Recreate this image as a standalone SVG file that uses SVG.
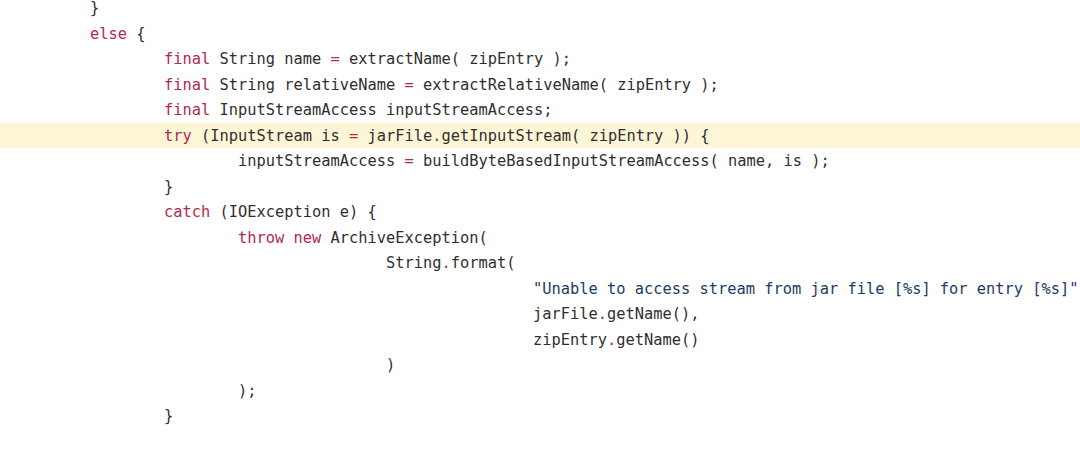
<svg xmlns="http://www.w3.org/2000/svg" width="1080" height="459" viewBox="0 0 1080 459">
<style>
text{font-family:"DejaVu Sans Mono","Liberation Mono",monospace;font-size:15.37px;fill:#2f2f2f;white-space:pre}
.k{fill:#b02a4c}
.s{fill:#1d3b66}
</style>
<rect x="0" y="0" width="1080" height="459" fill="#ffffff"/>
<rect x="0" y="123" width="1080" height="25" fill="#fdf6d6"/>
<g id="code">
<text x="90" y="13">}</text>
<text x="90" y="38.5"><tspan class="k">else</tspan> {</text>
<text x="164" y="64"><tspan class="k">final</tspan> String name <tspan class="k">=</tspan> extractName( zipEntry );</text>
<text x="164" y="89.5"><tspan class="k">final</tspan> String relativeName <tspan class="k">=</tspan> extractRelativeName( zipEntry );</text>
<text x="164" y="115"><tspan class="k">final</tspan> InputStreamAccess inputStreamAccess;</text>
<text x="164" y="140.5"><tspan class="k">try</tspan> (InputStream is <tspan class="k">=</tspan> jarFile<tspan class="k">.</tspan>getInputStream( zipEntry )) {</text>
<text x="238" y="166">inputStreamAccess <tspan class="k">=</tspan> buildByteBasedInputStreamAccess( name, is );</text>
<text x="164" y="191.5">}</text>
<text x="164" y="217"><tspan class="k">catch</tspan> (IOException e) {</text>
<text x="238" y="242.5"><tspan class="k">throw</tspan> <tspan class="k">new</tspan> ArchiveException(</text>
<text x="386" y="268">String<tspan class="k">.</tspan>format(</text>
<text x="533" y="293.5" class="s">"Unable to access stream from jar file [%s] for entry [%s]"</text>
<text x="533" y="319">jarFile<tspan class="k">.</tspan>getName(),</text>
<text x="533" y="344.5">zipEntry<tspan class="k">.</tspan>getName()</text>
<text x="386" y="370">)</text>
<text x="238" y="395.5">);</text>
<text x="164" y="421">}</text>
</g>
</svg>
